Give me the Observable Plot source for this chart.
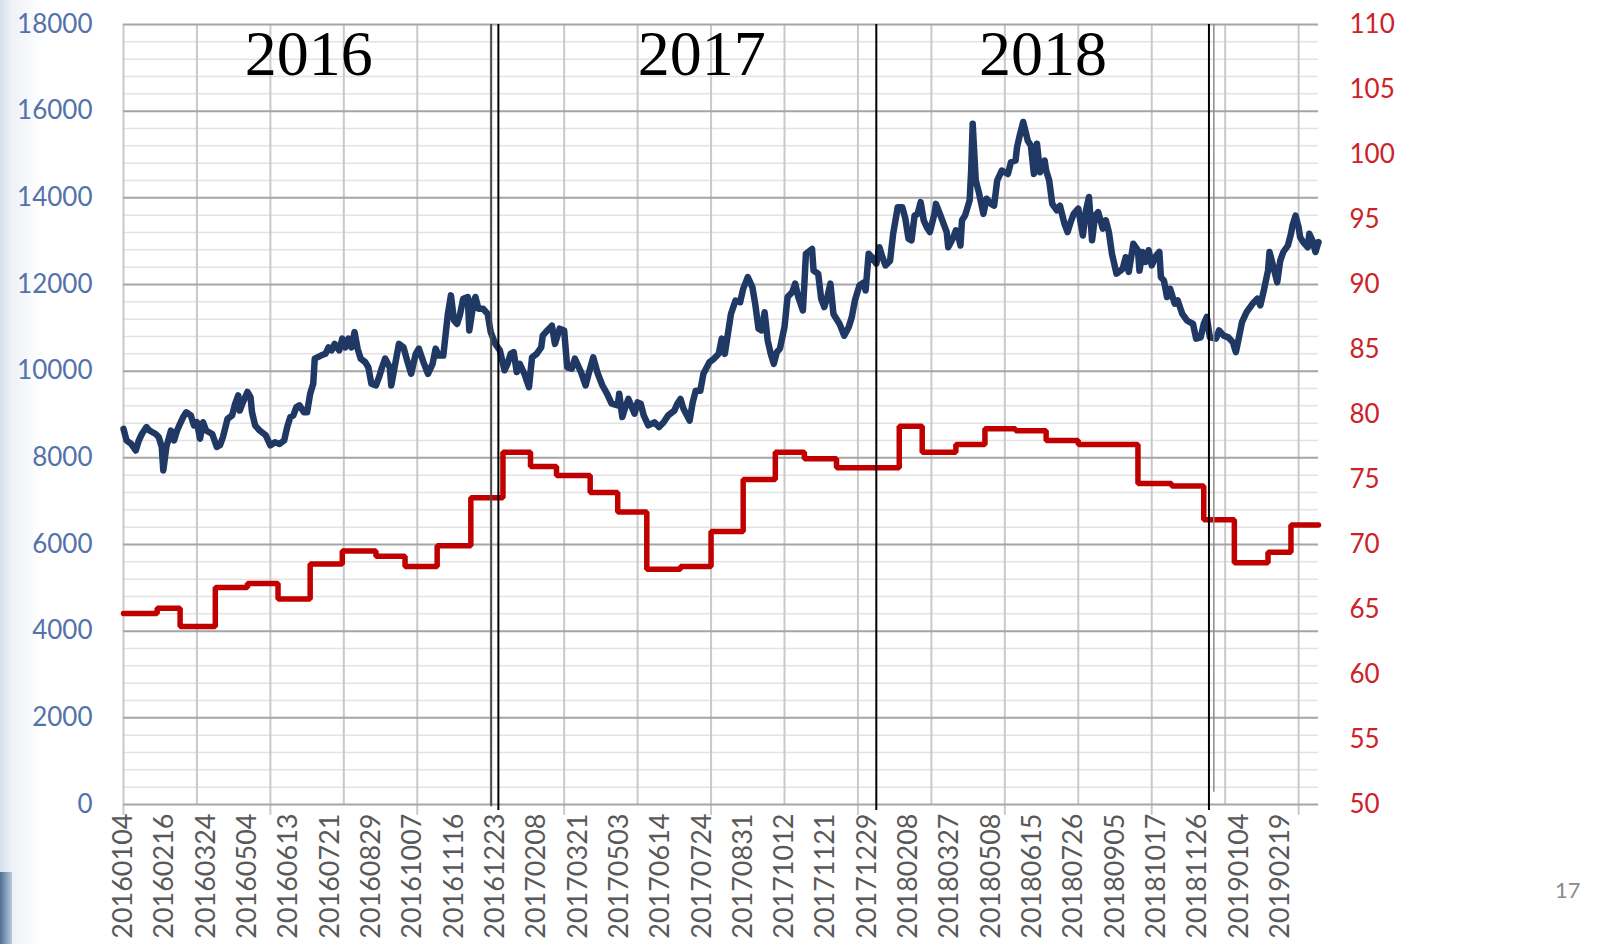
<!DOCTYPE html>
<html>
<head>
<meta charset="utf-8">
<script src="https://cdn.jsdelivr.net/npm/d3@7"></script>
<script src="https://cdn.jsdelivr.net/npm/@observablehq/plot@0.6"></script>
<style>
html,body{margin:0;padding:0;width:1613px;height:944px;overflow:hidden;}
body{position:relative;background:linear-gradient(90deg,#d6e1ee 0px,#edf2f8 12px,#ffffff 42px);}
#chart{position:absolute;left:0;top:0;}
#blob{position:absolute;left:0;top:872px;width:12px;height:72px;background:linear-gradient(90deg,#4d6f95,#b9cadc);}
#page{position:absolute;left:1555px;top:876px;font:22px Lato,sans-serif;color:#8a8a8a;}
</style>
</head>
<body>
<div id="blob"></div>
<div id="chart"></div>
<div id="page">17</div>
<script>
// ---- category axis labels (trading-day index, one label every 27 days)
const xTickLabels = ["20160104","20160216","20160324","20160504","20160613","20160721","20160829","20161007","20161116","20161223",
  "20170208","20170321","20170503","20170614","20170724","20170831","20171012","20171121","20171229",
  "20180208","20180327","20180508","20180615","20180726","20180905","20181017","20181126","20190104","20190219"];
const leftTicks = [0,2000,4000,6000,8000,10000,12000,14000,16000,18000];
const rightTicks = [50,55,60,65,70,75,80,85,90,95,100,105,110];

// ---- blue series (left axis), trading-day index and value
const blueIdx = [0,2,5,8,10,12,15,17,21,23,25,26,28,31,33,35,37,39,41,44,46,48,50,52,54,58,61,63,65,68,71,73,75,76,78,81,83,84,86,89,93,96,99,102,105,107,109,111,113,115,118,120,122,124,125,129,132,134,136,138,141,143,145,147,149,151,153,155,158,160,162,165,167,169,171,174,175,178,180,183,186,188,191,193,196,199,202,204,206,209,212,214,216,218,220,222,225,226,229,230,232,235,238,240,243,246,249,251,253,255,257,259,262,265,267,270,273,274,277,280,282,285,288,290,293,295,299,302,304,307,310,313,316,319,323,324,326,328,330,334,336,338,340,343,347,350,353,356,360,362,364,366,370,372,374,377,379,383,386,389,391,393,397,400,403,405,408,411,413,415,417,419,421,423,425,427,429,432,434,437,439,441,444,445,446,450,451,454,456,458,460,462,464,468,471,474,476,478,481,484,485,487,489,492,494,496,498,501,503,506,509,511,513,515,517,519,521,523,525,527,530,531,534,536,538,539,542,544,545,547,548,550,553,554,555,557,559,562,564,567,569,571,574,578,580,583,584,586,588,591,593,595,597,599,602,603,605,607,610,612,615,617,619,621,624,627,629,631,633,635,637,640,642,644,646,649,653,655,657,660,663,664,666,668,670,672,675,677,678,680,682,684,687,689,692,695,699,701,704,706,708,710,714,716,719,722,725,727,729,731,734,738,741,743,745,748,749,751,754,756,758,761,763,764,766,768,769,771,774,775,777,779,781];
const blueVal = [8670,8400,8320,8170,8400,8550,8710,8630,8550,8480,8250,7710,8250,8630,8400,8630,8790,8940,9050,8980,8750,8820,8440,8820,8630,8550,8250,8290,8480,8900,8980,9250,9440,9090,9280,9520,9400,9050,8750,8630,8520,8290,8360,8320,8400,8710,8940,8980,9170,9210,9050,9050,9480,9710,10290,10360,10400,10550,10480,10630,10480,10750,10550,10750,10550,10900,10520,10290,10210,10090,9710,9670,9860,10090,10290,10090,9670,10250,10630,10550,10170,9940,10400,10520,10210,9940,10170,10520,10360,10360,11320,11750,11170,11090,11320,11670,11710,10940,11630,11710,11440,11440,11320,10900,10630,10480,10020,10170,10400,10440,9980,10170,9940,9630,10320,10400,10550,10820,10940,11050,10630,10980,10940,10090,10060,10290,9980,9670,9940,10320,9940,9670,9480,9250,9210,9480,8940,9170,9360,9020,9280,9250,8980,8750,8820,8710,8820,8980,9090,9250,9360,9130,8860,9280,9550,9550,9940,10210,10290,10400,10750,10400,11320,11630,11590,11900,12170,11940,11520,10980,10940,11360,10710,10400,10170,10440,10520,11020,11710,11820,12020,11710,11400,12020,12710,12820,12320,12250,11670,11480,11710,12020,11320,11090,10820,11020,11250,11630,11980,12050,11860,12710,12630,12480,12860,12630,12440,12550,13170,13780,13780,13520,13060,13020,13590,13630,13900,13480,13320,13210,13630,13860,13590,13400,13210,12860,13060,13250,13210,12900,13480,13590,13940,14630,15710,14400,14130,13630,13980,13860,13820,14400,14630,14550,14820,14860,15170,15480,15750,15320,15210,14550,15250,14590,14860,14630,14400,13860,13710,13820,13400,13210,13440,13630,13750,13130,13710,14020,13020,13590,13670,13290,13480,13210,12710,12250,12360,12630,12290,12940,12790,12320,12750,12520,12790,12440,12670,12750,12170,12090,11710,11900,11560,11630,11320,11170,11090,10750,10780,11090,11250,10780,10750,10940,10820,10780,10670,10440,10780,11130,11360,11560,11670,11520,11820,12320,12750,12480,12050,12550,12750,12900,13170,13360,13590,13320,13090,12980,12860,13170,13020,12750,12980];

// ---- red series (right axis), step starts (trading-day index) and level
const redStart = [0,22,37,60,81,101,122,143,165,184,205,227,248,266,283,305,323,342,364,384,405,426,445,466,507,522,544,563,583,603,624,663,685,706,726,748,763,781];
const redVal   = [64.7,65.1,63.7,66.7,67.0,65.8,68.5,69.5,69.1,68.3,69.9,73.6,77.1,76.0,75.3,74.0,72.5,68.1,68.3,71.0,75.0,77.1,76.6,75.9,79.1,77.1,77.7,78.9,78.75,78.0,77.7,74.7,74.5,71.9,68.6,69.4,71.5,71.5];

// ---- annotations
const yearLabels = ["2016","2017","2018"];
const yearLabelIdx = [121,378,601];
const yearLines = [245,492,709.4];
const greyLines = [240.3];
const dropLines = [712.6];

const nCats = 781;
const toLeft = v => (v - 50) * 300;       // right-axis units -> left-axis units

const blue = blueIdx.map((x, i) => ({x, v: blueVal[i]}));
const red = redStart.map((x, i) => ({x, v: toLeft(redVal[i])}));
const labelAt = new Map(xTickLabels.map((s, i) => [i * 27, s]));

const chart = Plot.plot({
  width: 1613, height: 944,
  marginLeft: 123, marginRight: 295, marginTop: 24, marginBottom: 140,
  style: {background: "transparent", fontFamily: "Lato, sans-serif", overflow: "visible"},
  x: {domain: [0, nCats], axis: null},
  y: {domain: [0, 18000], axis: null},
  marks: [
    Plot.ruleY(d3.range(0, 18001, 400).filter(v => v % 2000 !== 0), {stroke: "#e3e3e3", strokeWidth: 1.5}),
    Plot.ruleX(d3.range(0, nCats + 1, 48), {stroke: "#c9c9c9", strokeWidth: 2}),
    Plot.ruleX(d3.range(0, nCats + 1, 96), {y1: 0, y2: -250, stroke: "#c9c9c9", strokeWidth: 2}),
    Plot.ruleY(leftTicks, {stroke: "#a5a5a5", strokeWidth: 2}),
    Plot.line(red, {x: "x", y: "v", curve: "step-after", stroke: "#c00000", strokeWidth: 5.5, strokeLinejoin: "miter"}),
    Plot.line(blue, {x: "x", y: "v", stroke: "#1f3864", strokeWidth: 6.5, strokeLinejoin: "round", strokeLinecap: "round"}),
    Plot.ruleX(dropLines, {y1: 280, y2: 18000, stroke: "#8c8c8c", strokeWidth: 1.5}),
    Plot.ruleX(greyLines, {y1: -50, y2: 18000, stroke: "#4a4a4a", strokeWidth: 2}),
    Plot.ruleX(yearLines, {y1: -140, y2: 18000, stroke: "#000000", strokeWidth: 2}),
    Plot.text(yearLabels, {x: yearLabelIdx, y: 16840, text: d => d, fontFamily: "Liberation Serif, serif", fontSize: 64, fill: "#000", lineAnchor: "bottom", textAnchor: "middle"}),
    Plot.axisY({anchor: "left", label: null, ticks: leftTicks, tickFormat: d3.format("d"), tickSize: 0, tickPadding: 31, fontSize: 26, fill: "#5472aa"}),
    Plot.axisY({anchor: "right", label: null, ticks: rightTicks.map(toLeft), tickFormat: d => String(Math.round(d / 300 + 50)), tickSize: 0, tickPadding: 31, fontSize: 26, fill: "#cc2229"}),
    Plot.axisX({label: null, ticks: [...labelAt.keys()], tickFormat: d => labelAt.get(d), tickRotate: -90, tickSize: 0, tickPadding: 9, fontSize: 27, fill: "#595959"})
  ]
});
document.getElementById("chart").appendChild(chart);
</script>
</body>
</html>
